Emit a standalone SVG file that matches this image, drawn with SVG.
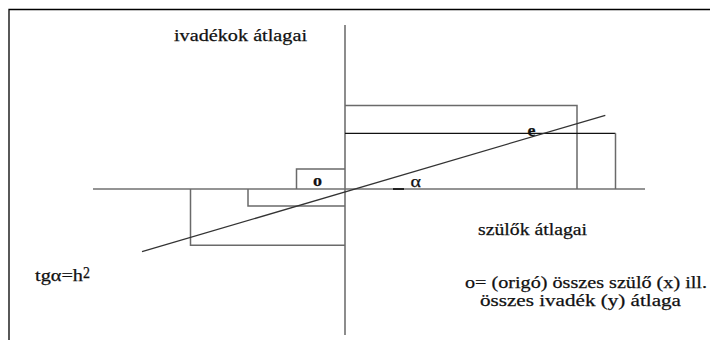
<svg xmlns="http://www.w3.org/2000/svg" width="710" height="340" viewBox="0 0 710 340">
<style>
.t{font-family:"Liberation Serif","Times New Roman",Times,serif;font-size:17px;fill:#111;stroke:#111;stroke-width:0.25}
.b{font-weight:bold}
.ax{stroke:#707070;stroke-width:1.6;fill:none}
.rg{stroke:#6a6a6a;stroke-width:1.5;fill:none}
.bk{stroke:#111;stroke-width:1.3;fill:none}
</style>
<rect width="710" height="340" fill="#fff"/>
<g id="frame"><polyline points="9,340 9,9.5 710,9.5" stroke="#000" stroke-width="1.3" fill="none"/></g>
<g id="connectors">
<line class="ax" x1="345" y1="25" x2="345" y2="335"/>
<line class="ax" x1="93" y1="189" x2="645" y2="189"/>
<line x1="393" y1="189" x2="404" y2="189" stroke="#222" stroke-width="2"/>
<polyline class="rg" points="345,105.5 577,105.5 577,189"/>
<line class="bk" x1="345" y1="133.3" x2="615.5" y2="133.3"/>
<line class="rg" x1="615.5" y1="133.3" x2="615.5" y2="189"/>
<polyline class="rg" points="296.5,189 296.5,169 345,169"/>
<polyline class="rg" points="248,189 248,206 345,206"/>
<polyline class="rg" points="190.5,189 190.5,245.3 345,245.3"/>
<line x1="142" y1="251.7" x2="605.3" y2="115.3" stroke="#333" stroke-width="1.3"/>
</g>
<g id="label-y"><text class="t" x="174" y="41" textLength="133" lengthAdjust="spacingAndGlyphs">ivadékok átlagai</text></g>
<g id="label-x"><text class="t" x="478" y="235" textLength="109" lengthAdjust="spacingAndGlyphs">szülők átlagai</text></g>
<g id="label-o"><text class="t b" x="313" y="185.5" font-size="14" textLength="9" lengthAdjust="spacingAndGlyphs">o</text></g>
<g id="label-e"><text class="t b" x="527.5" y="135.5" font-size="14" textLength="8" lengthAdjust="spacingAndGlyphs">e</text></g>
<g id="label-alpha"><text class="t" x="410.5" y="186.5" fill="#333" stroke="none" textLength="10.5" lengthAdjust="spacingAndGlyphs">α</text></g>
<g id="label-tg"><text class="t" x="35" y="281" textLength="48" lengthAdjust="spacingAndGlyphs">tgα=h</text><text class="t" x="83" y="277.5" font-size="10" textLength="7" lengthAdjust="spacingAndGlyphs">2</text></g>
<g id="label-origo">
<text class="t" x="465" y="288" textLength="242" lengthAdjust="spacingAndGlyphs">o= (origó) összes szülő (x) ill.</text>
<text class="t" x="480" y="306" textLength="201" lengthAdjust="spacingAndGlyphs">összes ivadék (y) átlaga</text>
</g>
</svg>
